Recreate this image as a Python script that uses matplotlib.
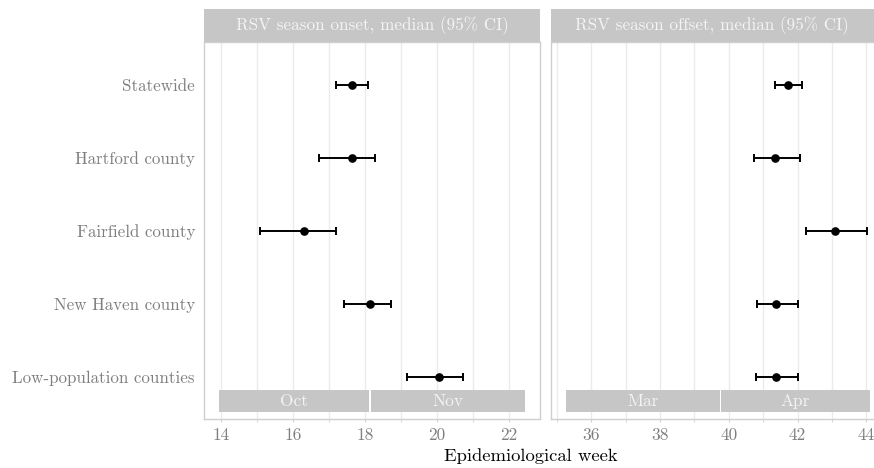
import matplotlib
matplotlib.use("Agg")
import matplotlib.pyplot as plt
import numpy as np

plt.rcParams['font.family'] = 'cmr10'
plt.rcParams['axes.formatter.use_mathtext'] = True

# datos
regions = ["Statewide", "Hartford county", "Fairfield county",
           "New Haven county", "Low-population counties"]

onset_med = [17.65, 17.63, 16.31, 18.13, 20.05]
onset_lo = [17.18, 16.71, 15.09, 17.42, 19.18]
onset_hi = [18.07, 18.29, 17.19, 18.71, 20.72]

offset_med = [41.71, 41.33, 43.08, 41.37, 41.37]
offset_lo = [41.34, 40.72, 42.25, 40.81, 40.79]
offset_hi = [42.14, 42.06, 44.01, 42.02, 42.02]

onset_months = ["Oct", "Nov"]
onset_m_start = [13.94, 18.16]
onset_m_end = [18.11, 22.44]

offset_months = ["Mar", "Apr"]
offset_m_start = [35.26, 39.77]
offset_m_end = [39.73, 44.10]

onset_ticks = [14, 16, 18, 20, 22]
offset_ticks = [36, 38, 40, 42, 44]

titles = ["RSV season onset, median (95% CI)", "RSV season offset, median (95% CI)"]

W, H = 874, 468
fig = plt.figure(figsize=(W / 100, H / 100), dpi=100)

grey_txt = "#7f7f7f"
strip_col = "#c6c6c6"


def panel(x0, x1, xlim, ticks, med, lo, hi, months, mstart, mend, title, show_y):
    ax = fig.add_axes([x0 / W, (H - 419) / H, (x1 - x0) / W, 377 / H])
    ypos = np.arange(1, len(regions) + 1)

    # bandas de meses
    widths = [e - s for s, e in zip(mstart, mend)]
    ax.barh([5.335] * len(months), widths, left=mstart, height=0.31,
            color=strip_col, zorder=2)
    for m, s, e in zip(months, mstart, mend):
        ax.text((s + e) / 2, 5.335, m, ha="center", va="center",
                color="#f4f4f4", fontsize=12.5, zorder=3)

    err = [np.array(med) - np.array(lo), np.array(hi) - np.array(med)]
    ax.errorbar(med, ypos, xerr=err, fmt="o", color="black", ms=5.2,
                elinewidth=1.4, capsize=2.8, capthick=1.4, zorder=4)

    ax.set_xticks(ticks)
    ax.set_xticklabels([str(t) for t in ticks])
    ax.set_xticks(np.arange(ticks[0] - 1, ticks[-1] + 2), minor=True)
    ax.set_yticks(ypos)
    ax.set_xlim(*xlim)
    ax.set_ylim(5.58, 0.41)
    ax.grid(True, axis="x", which="both", color="#ebebeb", lw=1)
    ax.set_axisbelow(True)
    for s in ax.spines.values():
        s.set_color("#cfcfcf")
        s.set_linewidth(1)
    ax.tick_params(axis="x", which="both", length=2.5, color="#cfcfcf",
                   labelcolor=grey_txt, labelsize=12.5, pad=4)
    ax.tick_params(axis="y", length=0, labelcolor=grey_txt, labelsize=12.2, pad=6.5)
    if show_y:
        ax.set_yticklabels(regions)
    else:
        ax.set_yticklabels([])

    # titulo de faceta
    st = fig.add_axes([x0 / W, (H - 42) / H, (x1 - x0) / W, 33 / H])
    st.set_facecolor(strip_col)
    st.set_xticks([])
    st.set_yticks([])
    for s in st.spines.values():
        s.set_visible(False)
    frac = 0.5
    if x1 > W:
        # la faceta derecha esta recortada: centrar en la parte visible
        frac = ((x0 + W) / 2 - x0) / (x1 - x0)
    st.text(frac, 0.5, title, ha="center", va="center", color="#f4f4f4",
            fontsize=12.3, transform=st.transAxes)
    return ax


panel(204, 540, (13.52, 22.87), onset_ticks, onset_med, onset_lo, onset_hi,
      onset_months, onset_m_start, onset_m_end, titles[0], True)
panel(550.7, 885, (34.82, 44.54), offset_ticks, offset_med, offset_lo, offset_hi,
      offset_months, offset_m_start, offset_m_end, titles[1], False)

fig.text(531 / W, 1 - 456 / H, "Epidemiological week", ha="center", va="center",
         fontsize=13.4, color="black")

fig.savefig("out.png", dpi=100)
